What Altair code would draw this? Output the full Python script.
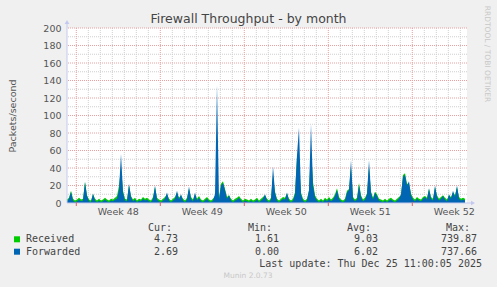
import altair as alt
import pandas as pd

# ---------------- data ----------------
forwarded = [
    2, 5, 13, 3, 1, 2, 4, 2, 3, 24, 8, 2, 1, 11, 3, 1, 3, 1, 2, 4,
    2, 1, 3, 2, 4, 5, 15, 56, 12, 3, 2, 22, 7, 2, 4, 1, 3, 2, 5, 3,
    4, 2, 1, 5, 20, 4, 2, 1, 3, 5, 12, 3, 1, 3, 5, 14, 4, 10, 3, 1,
    4, 19, 5, 2, 12, 3, 6, 2, 1, 3, 5, 2, 1, 3, 10, 135, 4, 20, 23, 15,
    5, 9, 3, 1, 3, 4, 6, 3, 1, 3, 2, 1, 3, 1, 2, 4, 1, 3, 5, 10,
    3, 1, 4, 42, 12, 3, 1, 3, 5, 4, 12, 3, 1, 3, 10, 55, 86, 10, 3, 1,
    3, 15, 90, 20, 7, 3, 1, 3, 1, 4, 2, 5, 2, 4, 8, 15, 5, 2, 1, 3,
    12, 15, 49, 5, 2, 4, 21, 7, 2, 4, 10, 49, 12, 4, 12, 8, 3, 2, 1, 3,
    1, 3, 4, 2, 1, 3, 5, 10, 30, 32, 20, 25, 9, 4, 2, 5, 3, 2, 5, 7,
    4, 17, 5, 3, 20, 7, 3, 5, 8, 4, 2, 10, 5, 14, 7, 20, 5, 3, 4, 3,
]
received = [
    4, 6, 14, 5, 3, 4, 6, 4, 5, 24, 9, 4, 3, 10, 5, 3, 5, 3, 4, 6,
    4, 3, 5, 4, 6, 8, 20, 40, 14, 5, 4, 20, 8, 4, 6, 3, 5, 4, 7, 5,
    6, 4, 3, 7, 18, 6, 4, 3, 5, 7, 10, 5, 3, 5, 7, 12, 6, 9, 5, 3,
    6, 16, 7, 4, 10, 5, 8, 4, 3, 5, 7, 4, 3, 5, 8, 12, 6, 22, 25, 16,
    7, 9, 5, 3, 5, 6, 8, 5, 3, 5, 4, 3, 5, 3, 4, 6, 3, 5, 7, 9,
    5, 3, 6, 30, 13, 5, 3, 5, 7, 6, 11, 5, 3, 5, 12, 52, 45, 12, 5, 3,
    5, 14, 60, 24, 9, 5, 3, 5, 3, 6, 4, 7, 4, 6, 10, 17, 7, 4, 3, 5,
    14, 16, 40, 7, 4, 6, 23, 9, 4, 6, 11, 40, 13, 6, 13, 10, 5, 4, 3, 5,
    3, 5, 6, 4, 3, 5, 7, 9, 32, 34, 22, 22, 11, 6, 4, 7, 5, 4, 7, 8,
    6, 16, 7, 5, 18, 9, 5, 7, 9, 6, 4, 9, 7, 12, 9, 18, 7, 5, 6, 5,
]
hours = [4 * i for i in range(len(forwarded))]  # 4-hour samples

week_bounds = [18.6, 186.6, 354.6, 522.6, 690.6]
week_mids = [102.6, 270.6, 438.6, 606.6, 774.6]
week_labels = ["Week 48", "Week 49", "Week 50", "Week 51", "Week 52"]
day_lines = [18.6 + 24 * k for k in range(1, 33) if k % 7 != 0]
y_ticks = list(range(0, 201, 20))
y_major = list(range(20, 201, 20))
y_minor = list(range(10, 200, 20))

series_names = ["Received", "Forwarded"]
series_colors = ["#00CC00", "#0066B3"]
cur_vals = [4.73, 2.69]
min_vals = [1.61, 0.00]
avg_vals = [9.03, 6.02]
max_vals = [739.87, 737.66]
last_update = "Last update: Thu Dec 25 11:00:05 2025"

# ---------------- chart ----------------
W, H = 400, 175
xs = alt.Scale(domain=[0, 800], nice=False, zero=False)
ys = alt.Scale(domain=[0, 200], nice=False)

yaxis = alt.Axis(values=y_ticks, grid=False, ticks=False, tickSize=0, domain=False,
                 labelFont="DejaVu Sans", labelFontSize=9.5, labelColor="#555555",
                 labelPadding=6, title="Packets/second", titleFont="DejaVu Sans",
                 titleFontSize=9.5, titleFontWeight="normal", titleColor="#555555",
                 titleX=-55, titleY=87.5, titleAngle=-90, titleAlign="center",
                 titleBaseline="middle")

dummy = alt.Data(values=[{"a": 1}])

df = pd.DataFrame({"h": hours, "rec": received, "fwd": forwarded})

vminor = alt.Chart(pd.DataFrame({"h": day_lines})).mark_rule(
    color="#CFCFCF", strokeDash=[1, 1], strokeWidth=1).encode(x=alt.X("h:Q", scale=xs, axis=None))
hminor = alt.Chart(pd.DataFrame({"v": y_minor})).mark_rule(
    color="#CFCFCF", strokeDash=[1, 1], strokeWidth=1).encode(y=alt.Y("v:Q", scale=ys, axis=yaxis))
vmajor = alt.Chart(pd.DataFrame({"h": week_bounds})).mark_rule(
    color="#E8A0A0", strokeDash=[1, 1], strokeWidth=1).encode(x=alt.X("h:Q", scale=xs, axis=None))
hmajor = alt.Chart(pd.DataFrame({"v": y_major})).mark_rule(
    color="#E8A0A0", strokeDash=[1, 1], strokeWidth=1).encode(y=alt.Y("v:Q", scale=ys, axis=yaxis))

rec_area = alt.Chart(df).mark_area(color=series_colors[0], opacity=1).encode(
    x=alt.X("h:Q", scale=xs, axis=None), y=alt.Y("rec:Q", scale=ys, axis=yaxis))
fwd_area = alt.Chart(df).mark_area(color=series_colors[1], opacity=1).encode(
    x=alt.X("h:Q", scale=xs, axis=None), y=alt.Y("fwd:Q", scale=ys, axis=yaxis))

axis_col = "#C4C8F0"
yline = alt.Chart(dummy).mark_rule(color=axis_col).encode(
    x=alt.value(0), y=alt.value(-4), y2=alt.value(H))
xline = alt.Chart(dummy).mark_rule(color=axis_col).encode(
    x=alt.value(0), x2=alt.value(404), y=alt.value(H))
yarrow = alt.Chart(dummy).mark_point(shape="triangle-up", filled=True, size=22,
                                     color=axis_col, opacity=1).encode(
    x=alt.value(0), y=alt.value(-6))
xarrow = alt.Chart(dummy).mark_point(shape="triangle-right", filled=True, size=22,
                                     color=axis_col, opacity=1).encode(
    x=alt.value(406), y=alt.value(H))
wticks = alt.Chart(pd.DataFrame({"h": week_bounds})).mark_rule(color="#E06060").encode(
    x=alt.X("h:Q", scale=xs, axis=None), y=alt.value(H - 1), y2=alt.value(H + 3))

wlabels = alt.Chart(pd.DataFrame({"h": week_mids, "t": week_labels})).mark_text(
    font="DejaVu Sans", fontSize=9.5, color="#555555", baseline="middle", align="center").encode(
    x=alt.X("h:Q", scale=xs, axis=None), y=alt.value(184), text="t:N")


def txt(s, x, y, align="left", size=10, color="#444444", font="DejaVu Sans Mono", angle=0):
    return alt.Chart(dummy).mark_text(font=font, fontSize=size, color=color, align=align,
                                      baseline="middle", angle=angle).encode(
        x=alt.value(x), y=alt.value(y), text=alt.value(s))


texts = [
    txt("Firewall Throughput - by month", 181.5, -9, align="center", size=12.5,
        color="#444444", font="DejaVu Sans"),
    txt("RRDTOOL / TOBI OETIKER", 420, 26, align="center", size=7.5, color="#C8C8C8",
        font="DejaVu Sans", angle=90),
    txt("Cur:", 105, 200, align="right"),
    txt("Min:", 205, 200, align="right"),
    txt("Avg:", 304, 200, align="right"),
    txt("Max:", 403, 200, align="right"),
    txt(last_update, 415, 236, align="right"),
    txt("Munin 2.0.73", 181, 248, align="center", size=7.5, color="#C8C8C8", font="DejaVu Sans"),
]
row_y = [211.3, 223.7]
squares = []
for k in range(2):
    y = row_y[k]
    squares.append(alt.Chart(dummy).mark_square(size=36, color=series_colors[k], opacity=1).encode(
        x=alt.value(-50), y=alt.value(y)))
    texts.append(txt(series_names[k], -41, y))
    texts.append(txt(f"{cur_vals[k]:.2f}", 111, y, align="right"))
    texts.append(txt(f"{min_vals[k]:.2f}", 212, y, align="right"))
    texts.append(txt(f"{avg_vals[k]:.2f}", 311, y, align="right"))
    texts.append(txt(f"{max_vals[k]:.2f}", 410, y, align="right"))

chart = alt.layer(
    vminor, hminor, vmajor, hmajor, rec_area, fwd_area,
    yline, xline, yarrow, xarrow, wticks, wlabels, *squares, *texts
).properties(
    width=W, height=H,
    autosize=alt.AutoSizeParams(type="none"),
    padding={"left": 67, "top": 28, "right": 30, "bottom": 84},
    background="#F0F0F0",
).configure_view(fill="#FFFFFF", stroke=None)

chart.save("out.html", embed_options={"renderer": "svg", "actions": False})
